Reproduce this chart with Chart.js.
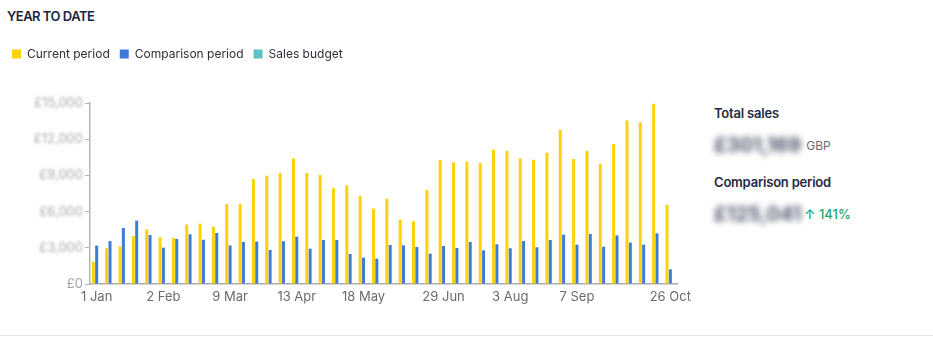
<!DOCTYPE html>
<html>
<head>
<meta charset="utf-8">
<script src="https://cdn.jsdelivr.net/npm/chart.js@4/dist/chart.umd.min.js"></script>
<style>
  html, body { margin: 0; padding: 0; background: #fff; }
  body { width: 933px; height: 338px; position: relative; overflow: hidden; font-family: Inter, sans-serif; }
  .title { position: absolute; left: 7px; top: 8px; font-size: 13px; font-weight: 600; color: #1c2541; letter-spacing: -0.5px; }
  .chart-box { position: absolute; left: 2px; top: 38px; width: 702px; height: 280px; }
  .stats { position: absolute; left: 714px; top: 105px; color: #1f2a44; }
  .stats .label { font-size: 13px; font-weight: 600; letter-spacing: -0.2px; }
  .stats .value { margin-top: 12px; height: 24px; display: flex; align-items: center; }
  .stats .amount { font-size: 20px; font-weight: 700; color: #4f566b; filter: blur(3px); }
  .stats .unit { font-size: 12px; color: #6d6d6d; margin-left: 5px; }
  .stats .delta { font-size: 13px; font-weight: 500; color: #1ea672; margin-left: 3px; }
  .stats .gap { height: 17px; }
  .rule { position: absolute; left: 0; right: 0; top: 335px; height: 1px; background: #e3e3e3; }
</style>
</head>
<body>
<div class="title">YEAR TO DATE</div>
<div class="chart-box"><canvas id="ytd-chart"></canvas></div>
<div class="stats">
  <div class="label">Total sales</div>
  <div class="value"><span class="amount">£301,169</span><span class="unit">GBP</span></div>
  <div class="gap"></div>
  <div class="label">Comparison period</div>
  <div class="value"><span class="amount">£125,041</span><span class="delta">↑ 141%</span></div>
</div>
<div class="rule"></div>

<script>
// weekly buckets (weeks start on Sunday, first bucket is the partial week from 1 Jan)
const categories = [
  '1 Jan', '5 Jan', '12 Jan', '19 Jan', '26 Jan',
  '2 Feb', '9 Feb', '16 Feb', '23 Feb',
  '2 Mar', '9 Mar', '16 Mar', '23 Mar', '30 Mar',
  '6 Apr', '13 Apr', '20 Apr', '27 Apr',
  '4 May', '11 May', '18 May', '25 May',
  '1 Jun', '8 Jun', '15 Jun', '22 Jun', '29 Jun',
  '6 Jul', '13 Jul', '20 Jul', '27 Jul',
  '3 Aug', '10 Aug', '17 Aug', '24 Aug', '31 Aug',
  '7 Sep', '14 Sep', '21 Sep', '28 Sep',
  '5 Oct', '12 Oct', '19 Oct', '26 Oct'
];

const currentPeriod = [
  1820, 2960, 3120, 3980, 4530, 3870, 3810, 4920, 5000, 4750, 6630,
  6630, 8700, 8980, 9200, 10410, 9200, 9030, 7930, 8180, 7290, 6240,
  7070, 5330, 5190, 7790, 10280, 10080, 10140, 10030, 11130, 11020, 10410,
  10300, 10880, 12790, 10360, 11020, 9940, 11600, 13560, 13400, 14940, 6570
];

const comparisonPeriod = [
  3180, 3560, 4640, 5250, 4060, 3010, 3730, 4120, 3670, 4230, 3200,
  3480, 3510, 2820, 3540, 3920, 2930, 3650, 3650, 2490, 2180, 2100,
  3230, 3200, 3070, 2510, 3150, 2980, 3480, 2790, 3290, 2960, 3560,
  3040, 3650, 4090, 3260, 4140, 3090, 4030, 3430, 3260, 4200, 1220
];

// no budget set for this year
const salesBudget = [];

const xTickLabels = ['1 Jan', '2 Feb', '9 Mar', '13 Apr', '18 May', '29 Jun', '3 Aug', '7 Sep', '26 Oct'];
const yTicks = [0, 3000, 6000, 9000, 12000, 15000];

function money(v) {
    return '£' + v.toLocaleString('en-GB');
}

// push the plot area down below the legend
const legendGap = {
    id: 'legendGap',
    beforeInit(chart) {
        const fit = chart.legend.fit;
        chart.legend.fit = function () {
            fit.call(this);
            this.height += 33;
        };
    }
};

// amounts on the value axis are masked
const maskedTicks = {
    id: 'maskedTicks',
    afterDraw(chart) {
        const y = chart.scales.y;
        const ctx = chart.ctx;
        ctx.save();
        ctx.filter = 'blur(1.8px)';
        ctx.font = '13px Inter';
        ctx.fillStyle = '#a8a8a8';
        ctx.textAlign = 'right';
        ctx.textBaseline = 'middle';
        y.ticks.forEach(t => {
            if (t.value === 0) return;
            ctx.fillText(money(t.value), y.right - 7, y.getPixelForValue(t.value));
        });
        ctx.restore();
    }
};

const ctx = document.getElementById('ytd-chart').getContext('2d');

new Chart(ctx, {
    type: 'bar',
    data: {
        labels: categories,
        datasets: [
            { label: 'Current period', data: currentPeriod, backgroundColor: '#fbd20b' },
            { label: 'Comparison period', data: comparisonPeriod, backgroundColor: '#3d7bd6' },
            { label: 'Sales budget', data: salesBudget, backgroundColor: '#5cc3c3' }
        ]
    },
    options: {
        responsive: true,
        maintainAspectRatio: false,
        animation: false,
        datasets: {
            bar: { categoryPercentage: 0.75, barPercentage: 0.9, borderWidth: 0 }
        },
        layout: { padding: { left: 0, right: 27, top: 0, bottom: 0 } },
        plugins: {
            tooltip: { enabled: false },
            legend: {
                position: 'top',
                align: 'start',
                labels: {
                    boxWidth: 9,
                    boxHeight: 9,
                    padding: 10,
                    color: '#2e2e3a',
                    font: { family: 'Inter', size: 12 }
                }
            }
        },
        scales: {
            x: {
                offset: true,
                grid: { display: false, drawTicks: false },
                border: { display: true, color: '#ababab', width: 1.5 },
                ticks: {
                    autoSkip: false,
                    maxRotation: 0,
                    padding: 5,
                    color: '#6b6b6b',
                    font: { family: 'Inter', size: 13 },
                    callback: (value, index) => xTickLabels.includes(categories[index]) ? categories[index] : ''
                },
                afterFit: scale => { scale.height = 34; }
            },
            y: {
                min: 0,
                max: 15000,
                afterBuildTicks: scale => { scale.ticks = yTicks.map(v => ({ value: v })); },
                grid: { display: true, drawOnChartArea: false, drawTicks: true, tickLength: 5, color: '#b5b5b5' },
                border: { display: true, color: '#b5b5b5', width: 1.5 },
                ticks: {
                    padding: 2,
                    font: { family: 'Inter', size: 13 },
                    color: c => c.tick && c.tick.value === 0 ? '#a3a3a3' : 'rgba(0,0,0,0)',
                    callback: v => money(v)
                },
                afterFit: scale => { scale.width = 88; }
            }
        }
    },
    plugins: [legendGap, maskedTicks]
});
</script>
</body>
</html>
